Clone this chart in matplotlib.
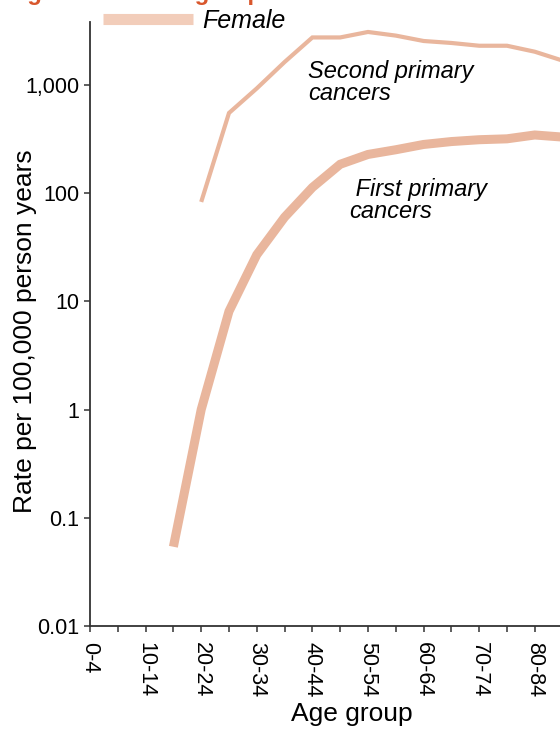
import matplotlib
matplotlib.use('Agg')
import matplotlib.pyplot as plt
from matplotlib.lines import Line2D
from matplotlib.ticker import FixedLocator, NullLocator

plt.rcParams['font.family'] = ['Liberation Sans', 'DejaVu Sans']

# age groups (5-year bands)
age_groups = ['0-4', '5-9', '10-14', '15-19', '20-24', '25-29', '30-34', '35-39',
              '40-44', '45-49', '50-54', '55-59', '60-64', '65-69', '70-74',
              '75-79', '80-84', '85+']

# rates per 100,000 person years, female
first_idx = list(range(3, 18))
first_rate = [0.054, 1.0, 8.1, 27, 60, 113, 185, 228, 252, 282, 300, 312, 318, 345, 330]

second_idx = list(range(4, 18))
second_rate = [83, 551, 930, 1630, 2750, 2750, 3090, 2860, 2550, 2445, 2305, 2305, 2030, 1680]

ytick_vals = [0.01, 0.1, 1, 10, 100, 1000]
ytick_labels = ['0.01', '0.1', '1', '10', '100', '1,000']

line_col = '#E9B69D'
legend_col = '#F2CDBA'
axis_col = '#333333'

fig = plt.figure(figsize=(5.6, 7.29), dpi=100)
# axes run past the right edge of the picture (cropped like the reference)
ax = fig.add_axes([90 / 560, 103 / 729, 524 / 560, 604 / 729])

ax.plot(first_idx, first_rate, color=line_col, lw=6.5, solid_capstyle='butt', solid_joinstyle='miter')
ax.plot(second_idx, second_rate, color=line_col, lw=3.0, solid_capstyle='butt', solid_joinstyle='miter')

ax.set_yscale('log')
ax.set_ylim(0.01, 3820)
ax.set_xlim(0, 18.85)

ax.yaxis.set_major_locator(FixedLocator(ytick_vals))
ax.set_yticklabels(ytick_labels)
ax.yaxis.set_minor_locator(NullLocator())

ax.set_xticks(range(0, 18, 2))
ax.set_xticklabels(age_groups[0::2], rotation=-90, va='top', ha='center')
ax.set_xticks(range(1, 18, 2), minor=True)

for s in ['top', 'right']:
    ax.spines[s].set_visible(False)
for s in ['left', 'bottom']:
    ax.spines[s].set_color(axis_col)
    ax.spines[s].set_linewidth(1.3)

ax.tick_params(axis='both', which='both', direction='out', length=4.5, width=1.1,
               color=axis_col, labelsize=15.5)
ax.tick_params(axis='x', which='major', pad=7)
ax.tick_params(axis='y', pad=3)

ax.set_xlabel('Age group', fontsize=19, labelpad=3)
ax.set_ylabel('Rate per 100,000 person years', fontsize=19)
ax.yaxis.set_label_coords(-0.101, 0.488)

ax.text(7.84, 1700, 'Second primary\ncancers', fontsize=17, style='italic',
        ha='left', va='top', linespacing=0.95)
ax.text(9.32, 138, ' First primary\ncancers', fontsize=17, style='italic',
        ha='left', va='top', linespacing=0.95)

leg_handle = Line2D([], [], color=legend_col, lw=8, solid_capstyle='butt')
ax.legend([leg_handle], ['Female'], loc='center left',
          bbox_to_anchor=(103 / 560, 1 - 21 / 729), bbox_transform=fig.transFigure,
          frameon=False, borderpad=0, borderaxespad=0, handlelength=3.6,
          handletextpad=0.36, prop={'size': 18, 'style': 'italic'})

# title, mostly cropped off the top of the picture
fig.text(10 / 560, 1.0, 'Age and cancer group', fontsize=17.2, fontweight='bold',
         color='#D9572C', va='baseline', ha='left')

fig.savefig('out.png', dpi=100)
